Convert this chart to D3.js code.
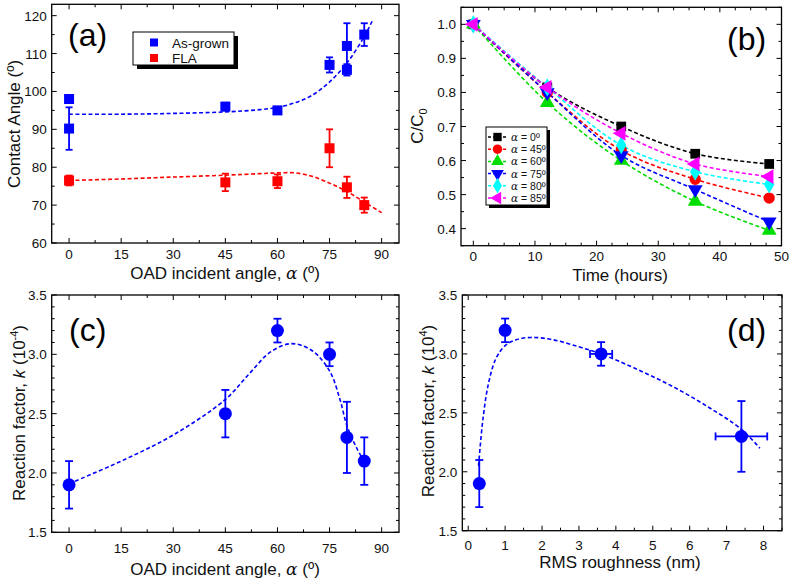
<!DOCTYPE html>
<html lang="en">
<head>
  <meta charset="UTF-8" />
  <title>Contact angle and reaction factor</title>
  <style>
    body { margin: 0; background: #fff; }
    svg { display: block; font-family: 'Liberation Sans', Arial, sans-serif; }
    .frame { fill: none; stroke: #000; stroke-width: 1.3px; }
    .tick-line { stroke: #000; stroke-width: 1px; }
    .tick-label { font-size: 13.5px; fill: #111; }
    .axis-title { font-size: 17px; fill: #111; }
    .fit { fill: none; stroke-width: 1.6px; stroke-dasharray: 4 2.5; }
  </style>
</head>
<body>
<svg id="chart" width="795" height="586"></svg>
<script src="https://d3js.org/d3.v7.min.js"></script>
<script>
  // ---- panel (a): contact angle ----
  const asGrownX   = [0, 0, 45, 60, 75, 80, 80, 85];
  const asGrownY   = [98, 90.2, 96, 95, 107, 112, 105.7, 115];
  const asGrownErr = [0.8, 5.6, 1, 0.8, 2, 6, 1.5, 3];
  const flaX   = [0, 45, 60, 75, 80, 85];
  const flaY   = [76.5, 76, 76.3, 85, 74.7, 70];
  const flaErr = [1.3, 2.3, 1.8, 5, 2.8, 2];
  const asGrownFitX = [0, 15, 30, 45, 55, 60, 65, 70, 75, 80, 85, 87.5];
  const asGrownFitY = [94, 94, 94.2, 94.6, 95.2, 95.8, 97, 99, 102.5, 107.5, 114.5, 119];
  const flaFitX = [0, 15, 30, 45, 55, 60, 65, 70, 75, 80, 85, 90];
  const flaFitY = [76.5, 76.9, 77.4, 77.9, 78.3, 78.5, 78.5, 77.6, 75.8, 73.6, 70.8, 68];

  // ---- panel (b): C/C0 vs time ----
  const timeHours = [0, 12, 24, 36, 48];
  const seriesLabels = ["0º", "45º", "60º", "75º", "80º", "85º"];
  const seriesColors = ["#000000", "#ff0000", "#00dd00", "#0000ff", "#00ffff", "#ff00ff"];
  const seriesShapes = ["square", "circle", "up", "down", "diamond", "left"];
  const ratio0  = [1.0, 0.815, 0.70, 0.62, 0.59];
  const ratio45 = [1.0, 0.80, 0.63, 0.545, 0.49];
  const ratio60 = [1.0, 0.77, 0.60, 0.48, 0.395];
  const ratio75 = [1.0, 0.80, 0.615, 0.515, 0.42];
  const ratio80 = [1.0, 0.815, 0.645, 0.567, 0.53];
  const ratio85 = [1.0, 0.815, 0.68, 0.59, 0.553];
  const ratios = [ratio0, ratio45, ratio60, ratio75, ratio80, ratio85];

  // ---- panel (c): reaction factor vs angle ----
  const kAngleX = [0, 45, 60, 75, 80, 85];
  const kAngleY = [1.9, 2.5, 3.2, 3.0, 2.3, 2.1];
  const kAngleErr = [0.2, 0.2, 0.1, 0.1, 0.3, 0.2];
  const kAngleFitX = [0, 15, 30, 45, 52, 58, 64, 70, 75, 78, 80, 83, 85];
  const kAngleFitY = [1.91, 2.1, 2.32, 2.62, 2.84, 3.02, 3.09, 3.03, 2.86, 2.62, 2.4, 2.2, 2.1];

  // ---- panel (d): reaction factor vs roughness ----
  const roughX = [0.3, 1.0, 3.6, 7.4];
  const roughXErr = [0, 0, 0.3, 0.7];
  const roughY = [1.9, 3.2, 3.0, 2.3];
  const roughYErr = [0.2, 0.1, 0.1, 0.3];
  const roughFitX = [0.28, 0.4, 0.55, 0.75, 1.0, 1.3, 1.7, 2.3, 3.0, 3.6, 4.5, 5.5, 6.5, 7.4, 7.9];
  const roughFitY = [2.05, 2.45, 2.75, 2.96, 3.07, 3.12, 3.14, 3.12, 3.06, 3.0, 2.88, 2.73, 2.55, 2.36, 2.2];

  const svg = d3.select("#chart");

  // draws frame + inward ticks on all four sides
  function drawFrame(g, x, y, opt) {
    const [x0, x1] = x.range(), [y0, y1] = y.range();
    g.append("rect").attr("class", "frame")
      .attr("x", x0).attr("y", y1).attr("width", x1 - x0).attr("height", y0 - y1);
    const inDom = (v, s) => { const d = s.domain(); return v >= Math.min(d[0], d[1]) - 1e-9 && v <= Math.max(d[0], d[1]) + 1e-9; };
    const major = 5, minor = 3;
    opt.xMinor.filter(v => inDom(v, x)).forEach(v => {
      const isMajor = opt.xMajor.some(m => Math.abs(m - v) < 1e-9);
      const len = isMajor ? major : minor;
      g.append("line").attr("class", "tick-line").attr("x1", x(v)).attr("x2", x(v)).attr("y1", y0).attr("y2", y0 - len);
      g.append("line").attr("class", "tick-line").attr("x1", x(v)).attr("x2", x(v)).attr("y1", y1).attr("y2", y1 + len);
    });
    opt.yMinor.filter(v => inDom(v, y)).forEach(v => {
      const isMajor = opt.yMajor.some(m => Math.abs(m - v) < 1e-9);
      const len = isMajor ? major : minor;
      g.append("line").attr("class", "tick-line").attr("y1", y(v)).attr("y2", y(v)).attr("x1", x0).attr("x2", x0 + len);
      g.append("line").attr("class", "tick-line").attr("y1", y(v)).attr("y2", y(v)).attr("x1", x1).attr("x2", x1 - len);
    });
    opt.xMajor.forEach(v => {
      g.append("text").attr("class", "tick-label").attr("x", x(v)).attr("y", y0 + opt.xLabelDy)
        .attr("text-anchor", "middle").text(opt.xFmt(v));
    });
    opt.yMajor.forEach(v => {
      g.append("text").attr("class", "tick-label").attr("x", x0 - 5).attr("y", y(v) + 5)
        .attr("text-anchor", "end").text(opt.yFmt(v));
    });
  }

  function range(a, b, step) {
    const out = [];
    for (let v = a; v <= b + 1e-9; v += step) out.push(+v.toFixed(6));
    return out;
  }

  function symbolPath(shape, size) {
    const map = { square: d3.symbolSquare, circle: d3.symbolCircle, up: d3.symbolTriangle,
      down: d3.symbolTriangle, diamond: d3.symbolDiamond, left: d3.symbolTriangle };
    return d3.symbol().type(map[shape]).size(size)();
  }
  function symbolRot(shape) {
    return shape === "down" ? 180 : shape === "left" ? -90 : 0;
  }

  function errorBarV(g, x, y, xv, yv, e, color, cap) {
    g.append("line").attr("x1", x(xv)).attr("x2", x(xv)).attr("y1", y(yv - e)).attr("y2", y(yv + e))
      .attr("stroke", color).attr("stroke-width", 1.8);
    [yv - e, yv + e].forEach(v => g.append("line").attr("x1", x(xv) - cap).attr("x2", x(xv) + cap)
      .attr("y1", y(v)).attr("y2", y(v)).attr("stroke", color).attr("stroke-width", 1.8));
  }
  function errorBarH(g, x, y, xv, yv, e, color, cap) {
    g.append("line").attr("y1", y(yv)).attr("y2", y(yv)).attr("x1", x(xv - e)).attr("x2", x(xv + e))
      .attr("stroke", color).attr("stroke-width", 1.8);
    [xv - e, xv + e].forEach(v => g.append("line").attr("y1", y(yv) - cap).attr("y2", y(yv) + cap)
      .attr("x1", x(v)).attr("x2", x(v)).attr("stroke", color).attr("stroke-width", 1.8));
  }

  const fitLine = (x, y) => d3.line().x(d => x(d[0])).y(d => y(d[1])).curve(d3.curveCatmullRom.alpha(0.5));

  // ================= (a) =================
  {
    const g = svg.append("g");
    const x = d3.scaleLinear().domain([-5, 95]).range([51.7, 399]);
    const y = d3.scaleLinear().domain([60, 123]).range([243, 4.3]);
    drawFrame(g, x, y, { xMajor: range(0, 90, 15), xMinor: range(-7.5, 97.5, 7.5),
      yMajor: range(60, 120, 10), yMinor: range(60, 125, 5), xFmt: d3.format("d"), yFmt: d3.format("d"), xLabelDy: 16 });

    g.append("path").attr("class", "fit").attr("stroke", "#0000ff")
      .attr("d", fitLine(x, y)(asGrownFitX.map((v, i) => [v, asGrownFitY[i]])));
    g.append("path").attr("class", "fit").attr("stroke", "#ff0000")
      .attr("d", fitLine(x, y)(flaFitX.map((v, i) => [v, flaFitY[i]])));

    asGrownX.forEach((v, i) => errorBarV(g, x, y, v, asGrownY[i], asGrownErr[i], "#0000ff", 3.5));
    flaX.forEach((v, i) => errorBarV(g, x, y, v, flaY[i], flaErr[i], "#ff0000", 3.5));
    g.selectAll(".sq-blue").data(asGrownX).enter().append("rect")
      .attr("x", (d) => x(d) - 5).attr("y", (d, i) => y(asGrownY[i]) - 5)
      .attr("width", 10).attr("height", 10).attr("fill", "#0000ff");
    g.selectAll(".sq-red").data(flaX).enter().append("rect")
      .attr("x", (d) => x(d) - 5).attr("y", (d, i) => y(flaY[i]) - 5)
      .attr("width", 10).attr("height", 10).attr("fill", "#ff0000");

    // legend
    g.append("rect").attr("x", 137).attr("y", 36).attr("width", 101).attr("height", 33).attr("fill", "#000");
    g.append("rect").attr("x", 133).attr("y", 32).attr("width", 101).attr("height", 33)
      .attr("fill", "#fff").attr("stroke", "#000").attr("stroke-width", 1);
    [["As-grown", "#0000ff", 42.5], ["FLA", "#ff0000", 58]].forEach(([t, c, ly]) => {
      g.append("rect").attr("x", 150).attr("y", ly - 4).attr("width", 8).attr("height", 8).attr("fill", c);
      g.append("text").attr("x", 172).attr("y", ly + 5).attr("font-size", 13.5).attr("fill", "#111").text(t);
    });

    g.append("text").attr("x", 68).attr("y", 46).attr("font-size", 32).attr("fill", "#000").text("(a)");

    const xt = g.append("text").attr("class", "axis-title").attr("x", 225).attr("y", 279).attr("text-anchor", "middle");
    xt.append("tspan").text("OAD incident angle, ");
    xt.append("tspan").attr("font-family", "'DejaVu Serif', serif").attr("font-style", "italic").text("α");
    xt.append("tspan").text(" (º)");
    g.append("text").attr("class", "axis-title").attr("transform", "translate(20,124) rotate(-90)")
      .attr("text-anchor", "middle").text("Contact Angle (º)");
  }

  // ================= (b) =================
  {
    const g = svg.append("g");
    const x = d3.scaleLinear().domain([-2, 50]).range([461, 781.5]);
    const y = d3.scaleLinear().domain([0.35, 1.05]).range([245.7, 7.3]);
    drawFrame(g, x, y, { xMajor: range(0, 50, 10), xMinor: range(0, 50, 2.5),
      yMajor: range(0.4, 1.0, 0.1), yMinor: range(0.35, 1.05, 0.05), xFmt: d3.format("d"), yFmt: d3.format(".1f"), xLabelDy: 15 });

    ratios.forEach((vals, s) => {
      g.append("path").attr("class", "fit").attr("stroke", seriesColors[s]).attr("stroke-width", 1.5)
        .attr("d", fitLine(x, y)(timeHours.map((t, i) => [t, vals[i]])));
    });
    ratios.forEach((vals, s) => {
      g.selectAll(null).data(timeHours).enter().append("path")
        .attr("d", symbolPath(seriesShapes[s], seriesShapes[s] === "circle" ? 100 : 95))
        .attr("transform", (t, i) => `translate(${x(t)},${y(vals[i])}) rotate(${symbolRot(seriesShapes[s])})`)
        .attr("fill", seriesColors[s]);
    });

    // legend
    g.append("rect").attr("x", 489).attr("y", 130).attr("width", 61).attr("height", 78).attr("fill", "#000");
    g.append("rect").attr("x", 486).attr("y", 127).attr("width", 61).attr("height", 78)
      .attr("fill", "#fff").attr("stroke", "#000").attr("stroke-width", 1);
    seriesLabels.forEach((lab, s) => {
      const ly = 137 + s * 12.2;
      g.append("line").attr("x1", 488).attr("x2", 507).attr("y1", ly).attr("y2", ly)
        .attr("stroke", seriesColors[s]).attr("stroke-width", 1.5).attr("stroke-dasharray", "3 2");
      g.append("path").attr("d", symbolPath(seriesShapes[s], 70))
        .attr("transform", `translate(497.5,${ly}) rotate(${symbolRot(seriesShapes[s])})`)
        .attr("fill", seriesColors[s]);
      const t = g.append("text").attr("x", 511).attr("y", ly + 4).attr("font-size", 10.5).attr("fill", "#111");
      t.append("tspan").attr("font-family", "'DejaVu Serif', serif").attr("font-style", "italic").text("α");
      t.append("tspan").text(" = " + lab);
    });

    g.append("text").attr("x", 727).attr("y", 50).attr("font-size", 32).attr("fill", "#000").text("(b)");

    g.append("text").attr("class", "axis-title").attr("x", 620).attr("y", 281).attr("text-anchor", "middle").text("Time (hours)");
    const yt = g.append("text").attr("class", "axis-title").attr("transform", "translate(423,126) rotate(-90)")
      .attr("text-anchor", "middle");
    yt.append("tspan").text("C/C");
    yt.append("tspan").attr("font-size", 11).attr("dy", 4).text("0");
  }

  // ================= (c) =================
  {
    const g = svg.append("g");
    const x = d3.scaleLinear().domain([-5, 95]).range([51.7, 399]);
    const y = d3.scaleLinear().domain([1.5, 3.5]).range([532.3, 295]);
    drawFrame(g, x, y, { xMajor: range(0, 90, 15), xMinor: range(-7.5, 97.5, 7.5),
      yMajor: range(1.5, 3.5, 0.5), yMinor: range(1.5, 3.5, 0.1), xFmt: d3.format("d"), yFmt: d3.format(".1f"), xLabelDy: 21 });

    g.append("path").attr("class", "fit").attr("stroke", "#0000ff")
      .attr("d", fitLine(x, y)(kAngleFitX.map((v, i) => [v, kAngleFitY[i]])));
    kAngleX.forEach((v, i) => errorBarV(g, x, y, v, kAngleY[i], kAngleErr[i], "#0000ff", 4));
    g.selectAll(null).data(kAngleX).enter().append("circle")
      .attr("cx", d => x(d)).attr("cy", (d, i) => y(kAngleY[i])).attr("r", 6.5).attr("fill", "#0000ff");

    g.append("text").attr("x", 69).attr("y", 341).attr("font-size", 32).attr("fill", "#000").text("(c)");

    const xt = g.append("text").attr("class", "axis-title").attr("x", 225).attr("y", 575).attr("text-anchor", "middle");
    xt.append("tspan").text("OAD incident angle, ");
    xt.append("tspan").attr("font-family", "'DejaVu Serif', serif").attr("font-style", "italic").text("α");
    xt.append("tspan").text(" (º)");
    const yt = g.append("text").attr("class", "axis-title").attr("transform", "translate(25,413) rotate(-90)")
      .attr("text-anchor", "middle");
    yt.append("tspan").text("Reaction factor, ");
    yt.append("tspan").attr("font-style", "italic").text("k");
    yt.append("tspan").text(" (10");
    yt.append("tspan").attr("font-size", 11).attr("dy", -7).text("-4");
    yt.append("tspan").attr("dy", 7).text(")");
  }

  // ================= (d) =================
  {
    const g = svg.append("g");
    const x = d3.scaleLinear().domain([-0.16, 8.5]).range([462.3, 782]);
    const y = d3.scaleLinear().domain([1.5, 3.5]).range([530.7, 295]);
    drawFrame(g, x, y, { xMajor: range(0, 8, 1), xMinor: range(0, 8.5, 0.5),
      yMajor: range(1.5, 3.5, 0.5), yMinor: range(1.5, 3.5, 0.1), xFmt: d3.format("d"), yFmt: d3.format(".1f"), xLabelDy: 19 });

    g.append("path").attr("class", "fit").attr("stroke", "#0000ff")
      .attr("d", fitLine(x, y)(roughFitX.map((v, i) => [v, roughFitY[i]])));
    roughX.forEach((v, i) => {
      errorBarV(g, x, y, v, roughY[i], roughYErr[i], "#0000ff", 4);
      if (roughXErr[i] > 0) errorBarH(g, x, y, v, roughY[i], roughXErr[i], "#0000ff", 4);
    });
    g.selectAll(null).data(roughX).enter().append("circle")
      .attr("cx", d => x(d)).attr("cy", (d, i) => y(roughY[i])).attr("r", 6.5).attr("fill", "#0000ff");

    g.append("text").attr("x", 727).attr("y", 341).attr("font-size", 32).attr("fill", "#000").text("(d)");

    g.append("text").attr("class", "axis-title").attr("x", 620).attr("y", 568).attr("text-anchor", "middle").text("RMS roughness (nm)");
    const yt = g.append("text").attr("class", "axis-title").attr("transform", "translate(434,411) rotate(-90)")
      .attr("text-anchor", "middle");
    yt.append("tspan").text("Reaction factor, ");
    yt.append("tspan").attr("font-style", "italic").text("k");
    yt.append("tspan").text(" (10");
    yt.append("tspan").attr("font-size", 11).attr("dy", -7).text("4");
    yt.append("tspan").attr("dy", 7).text(")");
  }
</script>
</body>
</html>
